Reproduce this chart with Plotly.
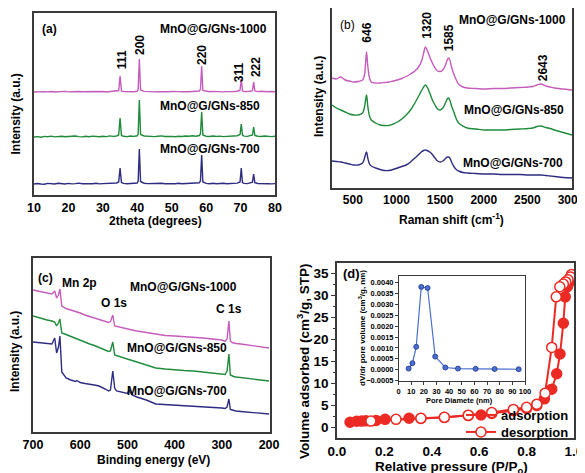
import plotly.graph_objects as go

# ---------------- (a) XRD ----------------
x_xrd = [10, 11, 12, 13, 14, 15, 16, 17, 18, 19, 20, 21, 22, 23, 24, 25, 26, 27, 28, 29, 30, 31, 32, 33, 34,
         34.6, 35.0, 35.4,
         36, 37, 38, 39, 40,
         40.25, 40.6, 40.95,
         42, 43, 44, 45, 46, 47, 48, 49, 50, 51, 52, 53, 54, 55, 56, 57, 58,
         58.35, 58.7, 59.05,
         60, 61, 62, 63, 64, 65, 66, 67, 68, 69,
         69.85, 70.2, 70.55,
         71, 72, 73,
         73.45, 73.8, 74.15,
         75, 76, 77, 78, 79, 80]
xrd_700 = [11, 11.5, 11, 10.8, 11.6, 11.2, 11, 11.8, 11.3, 11, 11.6, 11.1, 11.4, 11.9, 11.2, 11, 11.5, 11.3, 11.8, 11.1, 11.4, 11.6, 11.2, 11.5, 12,
           13, 27, 12.5,
           11.6, 11.3, 11.7, 11.4, 12,
           14, 46, 13.5,
           11.8, 11.4, 11.6, 11.2, 11.5, 11.8, 11.3, 11.6, 11.4, 11.2, 11.7, 11.3, 11.5, 11.9, 11.4, 11.6, 12.2,
           14, 40, 13,
           11.6, 11.3, 11.7, 11.2, 11.5, 11.8, 11.3, 11.6, 11.4, 11.9,
           13, 27, 12.5,
           11.6, 11.4, 12,
           12.8, 21, 12.3,
           11.5, 11.2, 11.6, 11.3, 11.1, 11.4]
xrd_850 = [58, 58.4, 57.8, 58.6, 58.2, 58.9, 58.1, 58.5, 58.8, 58.2, 58.6, 58.3, 59, 58.4, 58.1, 58.7, 58.3, 58.9, 58.5, 58.2, 58.8, 58.4, 59.1, 58.6, 59,
           60, 77, 59.5,
           58.7, 58.4, 59, 58.6, 59.2,
           61, 95, 60.5,
           59, 58.6, 58.9, 58.4, 58.8, 59.1, 58.5, 58.9, 58.6, 58.3, 58.8, 58.5, 59, 58.7, 59.2, 58.8, 59.5,
           61, 83, 60,
           58.8, 58.5, 59, 58.6, 58.9, 58.4, 58.8, 58.5, 59.1, 59.3,
           60.5, 71, 60,
           58.9, 58.6, 59.2,
           60, 68, 59.6,
           58.8, 58.5, 59, 58.6, 58.4, 58.7]
xrd_1000 = [103, 103.3, 102.9, 103.4, 103.1, 103.5, 103, 103.4, 103.2, 103.6, 103.1, 103.4, 103, 103.5, 103.2, 103.3, 103.6, 103.1, 103.4, 103.2, 103.5, 103, 103.4, 103.2, 103.7,
            104.5, 119, 104,
            103.4, 103.1, 103.5, 103.2, 103.8,
            105.5, 136, 105,
            103.6, 103.2, 103.5, 103.1, 103.4, 103.2, 103.6, 103.3, 103.5, 103.1, 103.4, 103.2, 103.6, 103.3, 103.5, 103.4, 104,
            105.5, 129, 104.5,
            103.5, 103.2, 103.6, 103.3, 103.5, 103.1, 103.4, 103.2, 103.5, 103.8,
            104.8, 116, 104.3,
            103.4, 103.2, 103.7,
            104.5, 113, 104,
            103.4, 103.8, 103.3, 103.2, 103.5, 103.3]
xrd_peak_labels = ["111", "200", "220", "311", "222"]
xrd_peak_label_x = [35.6, 40.8, 58.8, 69.6, 74.5]
xrd_peak_label_y = [135, 150, 140, 123, 128]

# ---------------- (b) Raman ----------------
x_raman = [250, 300, 350, 400, 450, 500, 550, 600, 620, 635, 646, 660, 680, 700, 750, 800, 850, 900, 950, 1000,
           1050, 1100, 1150, 1200, 1250, 1280, 1300, 1320, 1340, 1370, 1400, 1430, 1460, 1490, 1520, 1550, 1570,
           1585, 1600, 1620, 1650, 1680, 1700, 1750, 1800, 1900, 2000, 2100, 2200, 2300, 2400, 2500, 2550, 2600,
           2643, 2700, 2750, 2800, 2900, 3000]
raman_1000 = [110, 109, 111, 108, 107, 106, 106.5, 108, 112, 125, 136, 122, 110, 106, 105, 105, 105.5, 106, 107, 108,
              109.5, 111.5, 114, 117, 122, 128, 135, 141, 138, 131, 125, 120, 117, 116.5, 118, 123, 128,
              130, 128, 121, 113, 107, 104, 101, 100, 99.5, 99, 99.5, 99.5, 100, 100.5, 101, 101.5, 103,
              104, 102, 101, 100, 99, 98]
raman_850 = [83, 80, 78, 76, 74, 73, 73, 75, 80, 88, 93, 82, 72, 68, 65, 63, 62.5, 62.5, 64, 66,
             69, 73, 78, 85, 93, 98, 101, 103, 101, 95, 88, 83, 79, 78, 80, 85, 89,
             90, 88, 82, 75, 68, 65, 62, 60, 59, 58, 58, 58, 58.5, 59, 59.5, 60, 61.5,
             62, 60.5, 59.5, 58, 55.5, 53]
raman_700 = [27, 26.5, 26, 25, 24, 23, 23, 25, 29, 34, 36, 30, 24, 22, 20, 18.5, 17.5, 17.5, 18.5, 20,
             21.5, 23, 26, 30, 34, 36.5, 37.5, 38, 37.5, 36, 33.5, 30, 27, 26, 27, 29.5, 31,
             31, 30, 26, 21, 18, 17, 15.5, 15, 14.5, 14, 14, 13.5, 13.5, 13.5, 13, 13, 13,
             13, 12.5, 12, 11.5, 10.5, 10]
raman_peak_labels = ["646", "1320", "1585", "2643"]
raman_peak_label_x = [647, 1335, 1594, 2671]
raman_peak_label_y = [155, 163, 150, 120]

# ---------------- (c) XPS ----------------
x_xps = [700, 690, 680, 670, 660, 654, 650, 646, 643, 639, 630, 620, 610, 607, 600, 590, 580, 570, 560, 550,
         545, 540, 536, 531, 527, 523, 519, 515, 510, 500, 497, 490, 480, 460, 440, 420, 400, 380, 360, 350,
         340, 320, 300, 293, 289, 285, 282, 278, 275, 270, 260, 240, 220, 200]
xps_1000 = [142, 141, 140, 139, 138, 141, 134, 137, 143, 126, 123.5, 122, 120.5, 120.5, 119, 117, 115.5, 114, 112.5, 111,
            110, 109.5, 110.5, 117, 106, 105.5, 105, 104.5, 104, 103, 102.5, 102, 101, 99.5, 97.5, 96.5, 96, 95.5, 95, 94.5,
            94, 93, 92, 90.5, 93, 111, 91, 89.5, 89, 88.5, 88, 86.5, 85, 84]
xps_850 = [116, 114.5, 113, 112, 111, 110, 106, 109, 113, 99, 97.5, 95.5, 93.5, 93.5, 92, 90, 88, 86.5, 84.5, 82.5,
           81.5, 80.5, 81, 90, 77, 76.5, 76, 75, 74.5, 73, 72.5, 71.5, 70, 67, 64, 63, 62, 61.5, 61, 60.5,
           60, 59, 58, 57.5, 61, 78, 57, 56, 55.5, 55, 54.5, 53.5, 52, 51]
xps_700 = [90, 89.5, 89, 88.5, 88, 94, 79, 85, 96, 60, 54, 52, 50.5, 51.5, 49.5, 48.5, 48, 47, 46, 44,
           42.5, 41, 42, 61, 44, 41, 40.5, 40, 39, 38.5, 42, 37, 35, 32, 28, 27.5, 27, 26.5, 26, 26,
           25.5, 25, 24, 23.5, 25, 33, 22.5, 22, 21.5, 21, 20.5, 19.5, 18.5, 18]

# ---------------- (d) N2 isotherm ----------------
p_ads = [0.055, 0.083, 0.104, 0.122, 0.165, 0.203, 0.304, 0.354, 0.453, 0.554, 0.653, 0.744, 0.80, 0.843,
         0.875, 0.906, 0.927, 0.941, 0.955, 0.963, 0.972, 0.982, 0.99]
v_ads = [1.17, 1.4, 1.45, 1.5, 1.6, 1.85, 2.08, 2.05, 2.25, 2.7, 3.2, 3.8, 4.3, 5.0,
         6.5, 8.7, 12.2, 16.7, 23.7, 29.7, 32.0, 33.1, 34.2]
p_des = [0.99, 0.985, 0.975, 0.965, 0.955, 0.94, 0.925, 0.906, 0.878, 0.843, 0.80, 0.744, 0.653, 0.554,
         0.453, 0.354, 0.249, 0.143]
v_des = [34.8, 34.2, 33.6, 33.1, 32.6, 32.0, 29.7, 18.2, 7.8, 5.3, 4.6, 4.1, 3.4, 2.8,
         2.3, 2.08, 1.85, 1.45]

# inset: pore size distribution
pore_d = [8, 11, 14, 18, 23, 29, 37, 47, 61, 76, 95]
pore_v = [0.00005, 0.0003, 0.00105, 0.0038, 0.00375, 0.0006, 0.0001, 0.00005, 0.00004, 0.00003, 0.00002]

C1000 = "#c55cbd"
C850 = "#1f8b3b"
C700 = "#2d2c82"
RED = "#ec2a24"
BLUE = "#4a6fcf"
FONT = "Liberation Sans, Arial, sans-serif"
OFF = 8  # page body margin of the browser
W, H = 585 - OFF, 473 - OFF


def px(x):
    return (x - OFF) / W


def py(y):
    return 1 - (y - OFF) / H


fig = go.Figure()

for ys, c in [(xrd_1000, C1000), (xrd_850, C850), (xrd_700, C700)]:
    fig.add_trace(go.Scatter(x=x_xrd, y=ys, mode="lines", line=dict(color=c, width=1.4),
                             xaxis="x", yaxis="y", showlegend=False))
for ys, c in [(raman_1000, C1000), (raman_850, C850), (raman_700, C700)]:
    fig.add_trace(go.Scatter(x=x_raman, y=ys, mode="lines", line=dict(color=c, width=1.4, shape="spline"),
                             xaxis="x2", yaxis="y2", showlegend=False))
for ys, c in [(xps_1000, C1000), (xps_850, C850), (xps_700, C700)]:
    fig.add_trace(go.Scatter(x=x_xps, y=ys, mode="lines", line=dict(color=c, width=1.4),
                             xaxis="x3", yaxis="y3", showlegend=False))

fig.add_trace(go.Scatter(x=p_ads, y=v_ads, mode="lines+markers", name="adsorption", legend="legend",
                         line=dict(color=RED, width=2),
                         marker=dict(symbol="circle", size=10, color=RED, line=dict(color=RED, width=1.5)),
                         xaxis="x4", yaxis="y4"))
fig.add_trace(go.Scatter(x=p_des, y=v_des, mode="lines+markers", name="desorption", legend="legend2",
                         line=dict(color=RED, width=2),
                         marker=dict(symbol="circle", size=10, color="white", line=dict(color=RED, width=1.5)),
                         xaxis="x4", yaxis="y4"))
fig.add_trace(go.Scatter(x=pore_d, y=pore_v, mode="lines+markers", line=dict(color=BLUE, width=1.2),
                         marker=dict(size=5, color=BLUE, line=dict(color="#20348c", width=0.8)),
                         xaxis="x5", yaxis="y5", showlegend=False))

frame = dict(showline=True, mirror=True, linecolor="#3a3a3a", linewidth=1.5, showgrid=False, zeroline=False,
             automargin=False)
tickf = dict(family=FONT, size=12.5, color="black", weight="bold")
tk = dict(ticks="outside", ticklen=4, tickwidth=1.2, tickcolor="#3a3a3a", tickangle=0, ticklabeloverflow="allow")
legfont = dict(family=FONT, size=13, color="black", weight="bold")

# label-only x axes + overlay axes carrying the outside tick marks
lab = dict(ticks="", tickangle=0, ticklabeloverflow="allow", tickfont=tickf)


def tick_axis(over, anchor, rng, tick0, dtick, mdtick):
    return dict(overlaying=over, anchor=anchor, range=rng, tickmode="linear", tick0=tick0, dtick=dtick,
                showticklabels=False, ticks="outside", ticklen=4, tickwidth=1.2, tickcolor="#3a3a3a",
                minor=dict(ticks="outside", ticklen=2.5, dtick=mdtick, tickcolor="#3a3a3a"),
                showline=False, showgrid=False, zeroline=False, automargin=False)


fig.update_layout(
    template="none",
    width=W, height=H, margin=dict(l=0, r=0, t=0, b=0, autoexpand=False),
    paper_bgcolor="white", plot_bgcolor="white",
    font=dict(family=FONT, color="black"),
    xaxis=dict(domain=[px(34), px(275)], range=[10, 80], anchor="y", tickmode="linear", tick0=10, dtick=10,
               **lab, **frame),
    xaxis6=tick_axis("x", "y", [10, 80], 10, 10, 5),
    yaxis=dict(domain=[py(195), py(13)], range=[0, 182], anchor="x", showticklabels=False, ticks="", **frame),
    xaxis2=dict(domain=[px(332), px(572)], range=[250, 3000], anchor="y2", tickmode="linear", tick0=500, dtick=500,
                ticks="", tickangle=0, ticklabeloverflow="allow", ticklabelshift=-1,
                tickfont=dict(family=FONT, size=12, color="black", weight="bold"), **frame),
    xaxis7=tick_axis("x2", "y2", [250, 3000], 500, 500, 250),
    yaxis2=dict(domain=[py(188), py(8)], range=[0, 180], anchor="x2", showticklabels=False, ticks="", **frame),
    xaxis3=dict(domain=[px(33), px(270)], range=[700, 198], anchor="y3", tickmode="linear", tick0=300, dtick=100,
                **lab, **frame),
    xaxis8=tick_axis("x3", "y3", [700, 198], 300, 100, 50),
    yaxis3=dict(domain=[py(432), py(258)], range=[0, 174], anchor="x3", showticklabels=False, ticks="", **frame),
    xaxis4=dict(domain=[px(337), px(574)], range=[0, 1.0], anchor="y4", tickmode="linear", tick0=0, dtick=0.2,
                tickformat=".1f", ticks="", tickangle=0, ticklabeloverflow="allow",
                tickfont=dict(family=FONT, size=13.5, color="black", weight="bold"), **frame),
    xaxis9=tick_axis("x4", "y4", [0, 1.0], 0, 0.2, 0.1),
    yaxis4=dict(domain=[py(438), py(263)], range=[-2.4, 37.4], anchor="x4", tickmode="linear", tick0=0, dtick=5,
                tickfont=dict(family=FONT, size=13.5, color="black", weight="bold"),
                minor=dict(ticks="outside", ticklen=2.5, dtick=2.5, tickcolor="#3a3a3a"), **tk, **frame),
    xaxis5=dict(domain=[px(398.5), px(525)], range=[0, 100], anchor="y5", tickmode="linear", tick0=0, dtick=10,
                ticks="outside", ticklen=2.5, tickwidth=1, tickcolor="#3a3a3a", tickangle=0,
                ticklabeloverflow="allow",
                tickfont=dict(family=FONT, size=7.5, color="black", weight="bold"),
                showline=True, mirror=True, linecolor="#3a3a3a", linewidth=1, showgrid=False, zeroline=False,
                automargin=False),
    yaxis5=dict(domain=[py(381), py(276)], range=[-0.00052, 0.0043], anchor="x5", tickmode="linear",
                tick0=-0.0005, dtick=0.0005, tickformat=".4f",
                ticks="outside", ticklen=2.5, tickwidth=1, tickcolor="#3a3a3a",
                tickfont=dict(family=FONT, size=7.5, color="black", weight="bold"),
                showline=True, mirror=True, linecolor="#3a3a3a", linewidth=1, showgrid=False, zeroline=False,
                automargin=False),
    legend=dict(x=px(461), y=py(415), xanchor="left", yanchor="middle", bgcolor="rgba(0,0,0,0)",
                font=legfont, itemwidth=30, borderwidth=0),
    legend2=dict(x=px(461), y=py(432), xanchor="left", yanchor="middle", bgcolor="rgba(0,0,0,0)",
                 font=legfont, itemwidth=30, borderwidth=0),
)

ann = []


def A(text, x, y, xref, yref, size=12, bold=True, angle=0, xanchor="center", yanchor="middle"):
    ann.append(dict(text=text, x=x, y=y, xref=xref, yref=yref, showarrow=False, textangle=angle,
                    xanchor=xanchor, yanchor=yanchor,
                    font=dict(family=FONT, size=size, color="black", weight="bold" if bold else "normal")))


# panel (a)
for t, xx, yy in zip(xrd_peak_labels, xrd_peak_label_x, xrd_peak_label_y):
    A(t, xx, yy, "x", "y", angle=-90)
A("(a)", 11.7, 166, "x", "y", xanchor="left")
A("MnO@G/GNs-1000", 46.0, 166, "x", "y", xanchor="left")
A("MnO@G/GNs-850", 46.0, 89, "x", "y", xanchor="left")
A("MnO@G/GNs-700", 46.0, 46, "x", "y", xanchor="left")
A("2theta (degrees)", px(155), py(221), "paper", "paper")
A("Intensity (a.u.)", px(15.5), py(114), "paper", "paper", angle=-90)

# panel (b)
for t, xx, yy in zip(raman_peak_labels, raman_peak_label_x, raman_peak_label_y):
    A(t, xx, yy, "x2", "y2", angle=-90)
A("(b)", 319, 163, "x2", "y2", bold=False, xanchor="left")
A("MnO@G/GNs-1000", 1679, 168, "x2", "y2", xanchor="left")
A("MnO@G/GNs-850", 1736, 78, "x2", "y2", xanchor="left")
A("MnO@G/GNs-700", 1725, 25.3, "x2", "y2", xanchor="left")
A("Raman shift (cm<sup>-1</sup>)", px(452), py(219), "paper", "paper")
A("Intensity (a.u.)", px(319), py(97), "paper", "paper", angle=-90)

# panel (c)
A("(c)", 694, 153.7, "x3", "y3", xanchor="left")
A("Mn 2p", 643, 149.3, "x3", "y3", xanchor="left")
A("MnO@G/GNs-1000", 499, 144.7, "x3", "y3", xanchor="left")
A("O 1s", 560, 129.3, "x3", "y3", xanchor="left")
A("C 1s", 316, 122.7, "x3", "y3", xanchor="left")
A("MnO@G/GNs-850", 506, 84, "x3", "y3", xanchor="left")
A("MnO@G/GNs-700", 506, 41, "x3", "y3", xanchor="left")
A("Binding energy (eV)", px(153), py(460), "paper", "paper")
A("Intensity (a.u.)", px(15), py(352), "paper", "paper", angle=-90)

# panel (d)
A("(d)", 0.016, 34.9, "x4", "y4", size=13, xanchor="left")
A("Relative pressure (P/P<sub>o</sub>)", px(451), py(467), "paper", "paper", size=13.5)
A("Volume adsorbed (cm<sup>3</sup>/g, STP)", px(303), py(361), "paper", "paper", size=13.5, angle=-90)
A("Pore Diamete (nm)", px(459), py(400), "paper", "paper", size=7.5)
A("dV/dr pore volume (cm<sup>3</sup>/g, nm)", px(362), py(328), "paper", "paper", size=8, angle=-90)

fig.update_layout(annotations=ann)
fig.write_html("out.html")
